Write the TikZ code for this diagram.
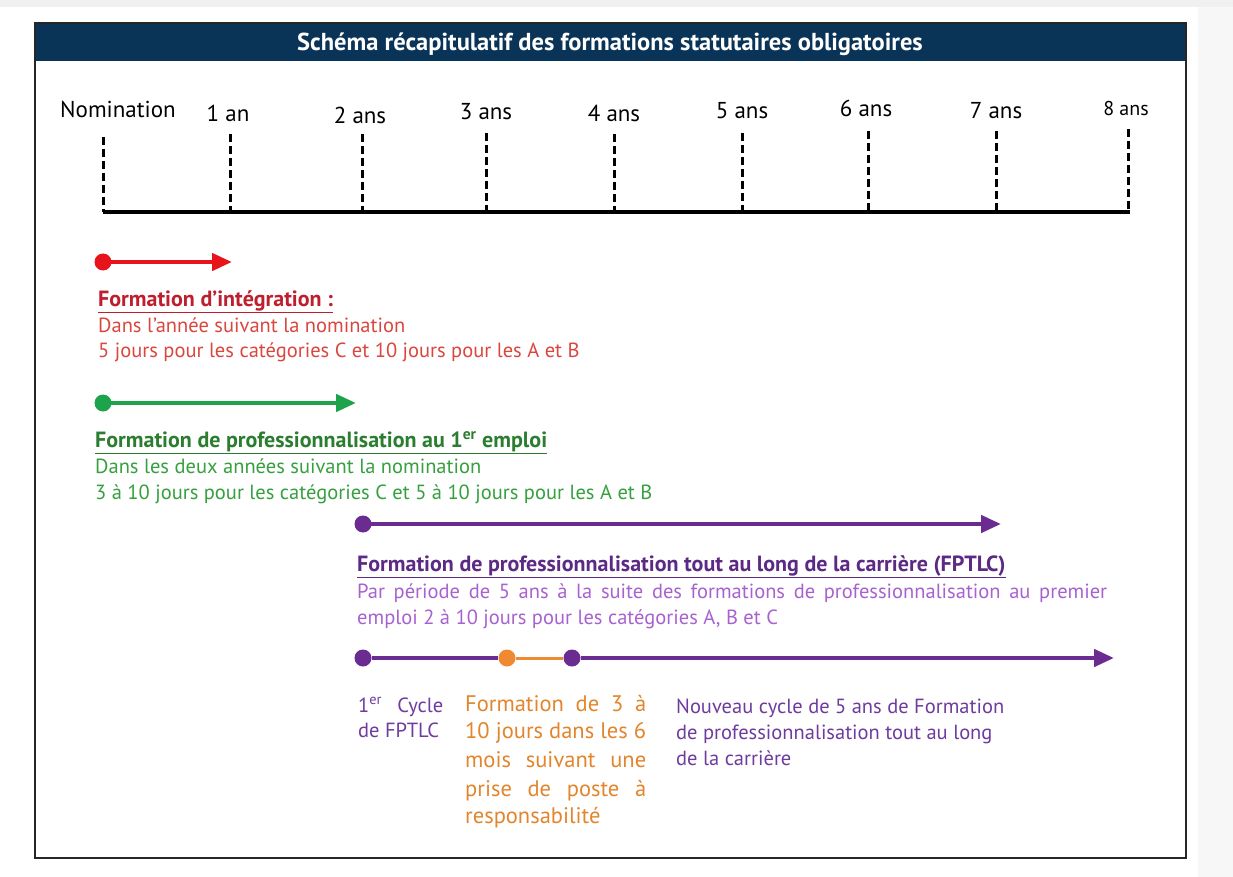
\documentclass[tikz,border=0pt]{standalone}
\usepackage{fontspec}
\setmainfont{PT Sans}
\usetikzlibrary{arrows.meta}
\definecolor{navy}{HTML}{0A3358}
\definecolor{redline}{HTML}{E8141B}
\definecolor{redhead}{HTML}{BE1E2D}
\definecolor{redtext}{HTML}{D9473F}
\definecolor{grnline}{HTML}{1DA34B}
\definecolor{grnhead}{HTML}{2B7D2F}
\definecolor{grntext}{HTML}{36A03F}
\definecolor{purline}{HTML}{6A2C91}
\definecolor{purhead}{HTML}{5C2A85}
\definecolor{purtext}{HTML}{A862CF}
\definecolor{purtext2}{HTML}{6F3C9E}
\definecolor{orgdot}{HTML}{F08A32}
\definecolor{orgtext}{HTML}{E2852C}
\tikzset{
  dot/.style={circle, inner sep=0pt, minimum size=17pt},
  bar/.style={line width=4.5pt},
  tip/.style={-{Triangle[length=20pt,width=17pt]}},
  tick/.style={line width=3pt, dash pattern=on 8pt off 4pt},
  yearlbl/.style={font=\fontsize{23}{26}\selectfont, anchor=base, inner sep=0pt},
  body/.style={font=\fontsize{20.5}{24}\selectfont, anchor=base west, inner sep=0pt},
  orng/.style={font=\fontsize{22.5}{26}\selectfont, anchor=base west, inner sep=0pt, text=orgtext},
  head/.style={font=\bfseries\fontsize{22}{26}\selectfont, anchor=base west, inner sep=0pt},
}
\begin{document}
\begin{tikzpicture}[x=1pt,y=-1pt]
\useasboundingbox (0,0) rectangle (1233,877);
\fill[white] (0,0) rectangle (1233,877);
\fill[black!6] (0,0) rectangle (1233,7);
\fill[black!3] (1198,7) rectangle (1233,877);
% frame and header
\fill[navy] (35,23) rectangle (1186,61);
\draw[line width=1.3pt, black!85] (35,23) rectangle (1186,858);
\node[font=\bfseries\fontsize{24.5}{28}\selectfont, text=white, inner sep=0pt, anchor=base] (title) at (610,51) {Schéma récapitulatif des formations statutaires obligatoires};
% timeline
\coordinate (t0) at (103,212);
\coordinate (t8) at (1130,212);
\draw[line width=3.5pt] (t0) -- (t8);
\foreach \n/\x/\top in {0/103/137,1/230/134,2/362/134,3/486/133,4/614/134,5/742/133,6/868/131,7/996/131,8/1128/129}{
  \coordinate (top\n) at (\x,\top);
  \coordinate (bot\n) at (\x,212);
  \draw[tick] (top\n) -- (bot\n);
}
\node[yearlbl] (l0) at (118,118) {Nomination};
\node[yearlbl] (l1) at (228,122) {1 an};
\node[yearlbl] (l2) at (360,124) {2 ans};
\node[yearlbl] (l3) at (486,120) {3 ans};
\node[yearlbl] (l4) at (614,122) {4 ans};
\node[yearlbl] (l5) at (742,119) {5 ans};
\node[yearlbl] (l6) at (866,117) {6 ans};
\node[yearlbl] (l7) at (996,119) {7 ans};
\node[yearlbl, font=\fontsize{20}{22}\selectfont] (l8) at (1126,116) {8 ans};
% red
\node[dot, fill=redline] (rdot) at (103,262) {};
\coordinate (rend) at (232,262);
\draw[bar, tip, redline] (rdot.center) -- (rend);
\node[head, text=redhead] (rh) at (98,306) {\underline{Formation d’intégration :}};
\node[body, text=redtext] (r1) at (98,332) {Dans l’année suivant la nomination};
\node[body, text=redtext] (r2) at (98,357) {5 jours pour les catégories C et 10 jours pour les A et B};
% green
\node[dot, fill=grnline] (gdot) at (103,403) {};
\coordinate (gend) at (356,403);
\draw[bar, tip, grnline] (gdot.center) -- (gend);
\node[head, text=grnhead] (gh) at (95,447) {\underline{Formation de professionnalisation au 1\textsuperscript{er} emploi}};
\node[body, text=grntext] (g1) at (95,473) {Dans les deux années suivant la nomination};
\node[body, text=grntext] (g2) at (95,499) {3 à 10 jours pour les catégories C et 5 à 10 jours pour les A et B};
% purple
\node[dot, fill=purline] (pdot) at (363,524) {};
\coordinate (pend) at (1001,524);
\draw[bar, tip, purline] (pdot.center) -- (pend);
\node[head, text=purhead] (ph) at (357,571) {\underline{Formation de professionnalisation tout au long de la carrière (FPTLC)}};
\node[body, text=purtext] (p1) at (357,598) {\makebox[750pt][s]{Par période de 5 ans à la suite des formations de professionnalisation au premier}};
\node[body, text=purtext] (p2) at (357,624) {emploi 2 à 10 jours pour les catégories A, B et C};
% bottom cycle line
\node[dot, fill=purline] (b1) at (363,658) {};
\node[dot, fill=orgdot] (b2) at (507,658) {};
\node[dot, fill=purline] (b3) at (572,658) {};
\coordinate (b4) at (1114,658);
\draw[bar, purline] (b1) -- (b2);
\draw[line width=3pt, orgdot] (b2) -- (b3);
\draw[bar, tip, purline] (b3) -- (b4);
% bottom texts
\node[body, text=purtext2] (c1) at (358,712) {\makebox[85pt][s]{1\textsuperscript{er} Cycle}};
\node[body, text=purtext2] (c2) at (358,737) {de FPTLC};
\node[orng] (o1) at (465,711) {\makebox[181pt][s]{Formation de 3 à}};
\node[orng] (o2) at (465,738) {\makebox[181pt][s]{10 jours dans les 6}};
\node[orng] (o3) at (465,767) {\makebox[181pt][s]{mois suivant une}};
\node[orng] (o4) at (465,796) {\makebox[181pt][s]{prise de poste à}};
\node[orng] (o5) at (465,823) {responsabilité};
\node[body, text=purtext2] (n1) at (676,713) {Nouveau cycle de 5 ans de Formation};
\node[body, text=purtext2] (n2) at (676,739) {de professionnalisation tout au long};
\node[body, text=purtext2] (n3) at (676,765) {de la carrière};
\end{tikzpicture}
\end{document}
